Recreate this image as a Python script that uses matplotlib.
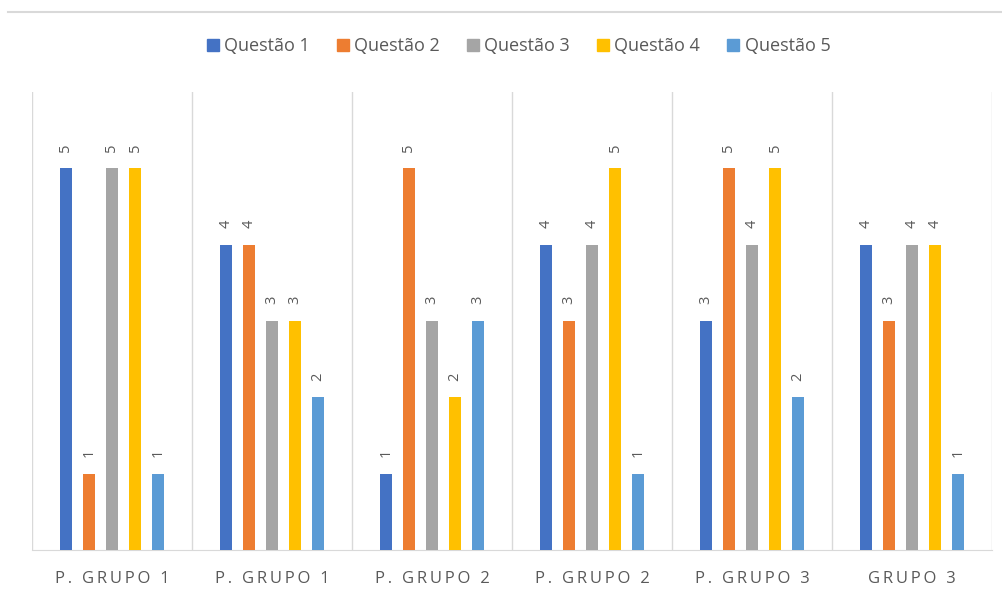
import matplotlib
matplotlib.use("Agg")
import matplotlib.pyplot as plt
import numpy as np
from matplotlib.lines import Line2D

categories = ["P. GRUPO 1", "P. GRUPO 1", "P. GRUPO 2", "P. GRUPO 2", "P. GRUPO 3", "GRUPO 3"]
series_names = ["Questão 1", "Questão 2", "Questão 3", "Questão 4", "Questão 5"]
q1 = [5, 4, 1, 4, 3, 4]
q2 = [1, 4, 5, 3, 5, 3]
q3 = [5, 3, 3, 4, 4, 4]
q4 = [5, 3, 2, 5, 5, 4]
q5 = [1, 2, 3, 1, 2, 1]
series = [q1, q2, q3, q4, q5]
colors = ["#4472C4", "#ED7D31", "#A5A5A5", "#FFC000", "#5B9BD5"]

plt.rcParams['font.family'] = ['Open Sans', 'DejaVu Sans']
fig = plt.figure(figsize=(10.03, 5.95), dpi=100)
ax = fig.add_axes([32/1003, 1-550/595, 960/1003, 458/595])

x = np.arange(len(categories))
bw = 0.075
step = 0.144
txtc = "#595959"
for i, (vals, c) in enumerate(zip(series, colors)):
    pos = x + (i - 2) * step
    ax.bar(pos, vals, width=bw, color=c, label=series_names[i], zorder=3)
    for p, v in zip(pos, vals):
        ax.annotate(str(v), (p, v), xytext=(0, 12), textcoords="offset points",
                    rotation=90, ha="center", va="bottom", fontsize=10.5, color=txtc)

ax.set_xlim(-0.5, len(categories) - 0.5)
ax.set_ylim(0, 6)
ax.set_yticks([])
for b in np.arange(-0.5, len(categories) + 0.5, 1):
    ax.axvline(b, color="#D9D9D9", lw=1, zorder=1)
for s in ["top", "right", "left"]:
    ax.spines[s].set_visible(False)
ax.spines["bottom"].set_color("#D9D9D9")
ax.set_xticks(x)
ax.set_xticklabels(["\u2009".join(list(c)) for c in categories], fontsize=12, color=txtc)
ax.tick_params(axis="x", length=0, pad=15)

handles = [Line2D([], [], marker="s", linestyle="none", markersize=9, color=c) for c in colors]
fig.legend(handles, series_names, loc="center", bbox_to_anchor=(517/1003, 1-46/595), ncol=5,
           frameon=False, fontsize=13, labelcolor=txtc, handletextpad=0.15, columnspacing=1.3,
           handlelength=1.0)

fig.add_artist(Line2D([8/1003, 1], [1-12/595, 1-12/595], color="#D9D9D9", lw=1.5))
fig.savefig("out.png", dpi=100, facecolor="white")
